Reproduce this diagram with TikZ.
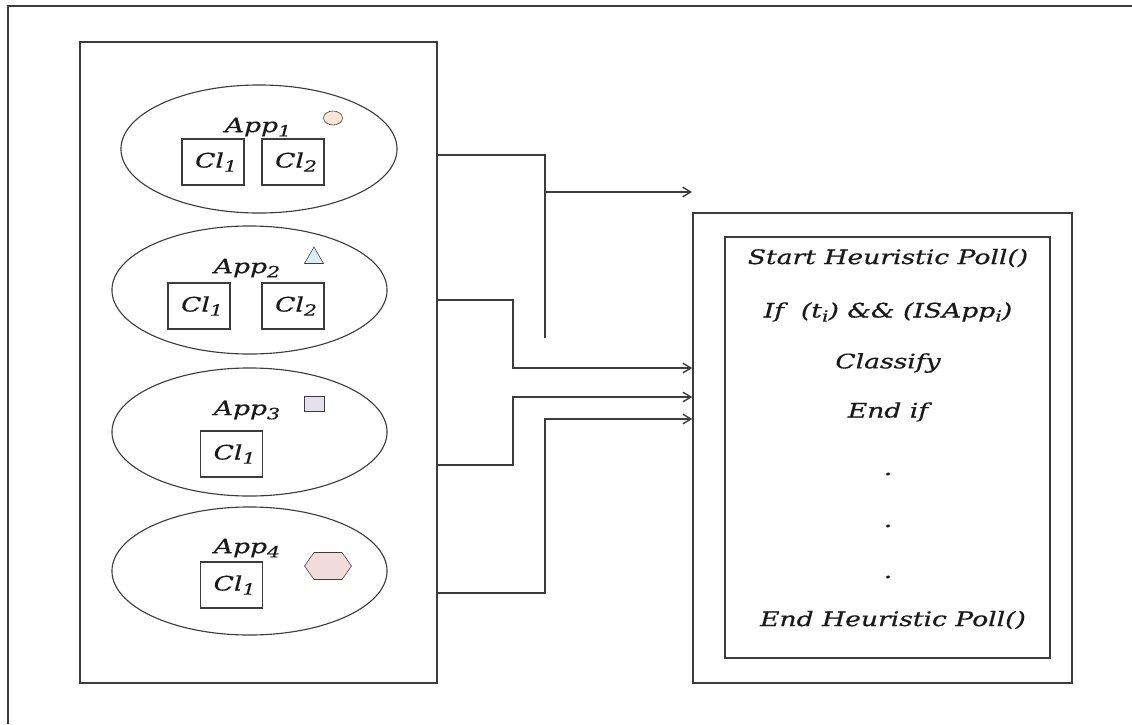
\documentclass[tikz,border=0pt]{standalone}
\usepackage{fontspec}
\newfontfamily\algfont[FakeStretch=1.33, FakeBold=0.6]{DejaVu Serif}
\usetikzlibrary{shapes.geometric, shapes.symbols, arrows.meta, positioning}
\definecolor{mcirc}{HTML}{FBE5D6}
\definecolor{mtri}{HTML}{DAEEF3}
\definecolor{msq}{HTML}{E5E0EC}
\definecolor{mhex}{HTML}{F2DCDB}
\definecolor{edge}{HTML}{3C3C3C}
% pedice un po' piu' grande di \textsubscript
\newcommand{\idx}[1]{\raisebox{-0.4ex}{\fontsize{11}{12}\selectfont #1}}
\tikzset{
  % testo in corsivo
  txt/.style={font=\algfont\itshape\fontsize{14.2}{16}\selectfont, inner sep=1pt,
    text=black!90},
  % riquadri e cornici
  panel/.style={draw=edge, line width=1pt},
  % applicazione
  app/.style={ellipse, draw=edge, line width=0.8pt, minimum width=6.9cm,
    minimum height=3.2cm},
  % classe dentro un'applicazione
  cls/.style={txt, draw=edge, line width=0.8pt, minimum width=1.55cm,
    minimum height=1.15cm},
  % piccoli simboli delle applicazioni
  tagcirc/.style={ellipse, draw=edge, fill=mcirc, minimum width=0.475cm,
    minimum height=0.35cm, inner sep=0pt},
  tagtri/.style={regular polygon, regular polygon sides=3, draw=edge, fill=mtri,
    minimum size=0.55cm, inner sep=0pt},
  tagsq/.style={draw=edge, fill=msq, minimum width=0.5cm, minimum height=0.37cm,
    inner sep=0pt},
  taghex/.style={signal, signal to=east and west, signal pointer angle=110,
    draw=edge, fill=mhex, minimum width=1.175cm, minimum height=0.675cm, inner sep=0pt},
  % collegamenti
  link/.style={draw=edge, line width=1pt},
  flow/.style={link, -{Straight Barb[length=2mm, width=2.4mm]}},
}
\begin{document}
\begin{tikzpicture}[x=0.025cm, y=-0.025cm]
  \useasboundingbox (0,0) rectangle (1132,724);
  % cornice esterna (solo lati sinistro e superiore)
  \draw[panel] (8,724) -- (8,6) -- (1132,6);

  % applicazioni
  \node[panel, minimum width=8.925cm, minimum height=16.025cm] (apps) at (258.5,362.5) {};
  \node[app] (app1) at (259,149) {};
  \node[app, minimum width=6.875cm] (app2) at (249.5,290) {};
  \node[app, minimum width=6.875cm] (app3) at (249.5,432) {};
  \node[app, minimum width=6.875cm] (app4) at (249.5,571) {};

  \node[txt] (l1) at (258,127) {App\idx{1}};
  \node[txt] (l2) at (247,268) {App\idx{2}};
  \node[txt] (l3) at (247,410) {App\idx{3}};
  \node[txt] (l4) at (247,548) {App\idx{4}};

  \node[cls, text width=1.2cm, align=right] (c11) at (213,162) {Cl\idx{1}};
  \node[cls, text width=1.2cm, align=right] (c12) at (293,162) {Cl\idx{2}};
  \node[cls, text width=1.2cm, align=right] (c21) at (199,306) {Cl\idx{1}};
  \node[cls, text width=1.2cm, align=right] (c22) at (293,306) {Cl\idx{2}};
  \node[cls, text width=1.2cm, align=right] (c31) at (231.5,454) {Cl\idx{1}};
  \node[cls, text width=1.2cm, align=right] (c41) at (231.5,585) {Cl\idx{1}};

  \node[tagcirc] (m1) at (333,118) {};
  \node[tagtri] (m2) at (314,258) {};
  \node[tagsq] (m3) at (314,404) {};
  \node[taghex] (m4) at (328,566) {};

  % algoritmo di polling
  \node[panel, minimum width=9.475cm, minimum height=11.75cm] (poll) at (882.5,448) {};
  \node[panel, minimum width=8.125cm, minimum height=10.525cm] (body) at (887.5,447.5) {};
  \node[txt] (s1) at (888,258) {Start Heuristic Poll()};
  \node[txt] (s2) at (888,312) {If~ (t\idx{i}) \&\& (ISApp\idx{i})};
  \node[txt] (s3) at (888,363) {Classify};
  \node[txt] (s4) at (888,412) {End if};
  \node[txt] (d1) at (888,474) {.};
  \node[txt] (d2) at (888,526) {.};
  \node[txt] (d3) at (888,577) {.};
  \node[txt] (s5) at (893,620) {End Heuristic Poll()};

  % righe e gomiti dei collegamenti
  \coordinate (r1) at (0,155);
  \coordinate (r2) at (0,300);
  \coordinate (r3) at (0,465);
  \coordinate (r4) at (0,593);
  \coordinate (a1) at (545,338);
  \coordinate (a2) at (513,368);
  \coordinate (a3) at (513,397);
  \coordinate (a4) at (545,419);
  \coordinate (t1) at (692,192);

  \draw[link] (apps.east |- r1) -| (a1);
  \draw[flow] (a1 |- t1) -- (t1);
  \draw[flow] (apps.east |- r2) -| (a2) -- (poll.west |- a2);
  \draw[flow] (apps.east |- r3) -| (a3) -- (poll.west |- a3);
  \draw[flow] (apps.east |- r4) -| (a4) -- (poll.west |- a4);
\end{tikzpicture}
\end{document}
